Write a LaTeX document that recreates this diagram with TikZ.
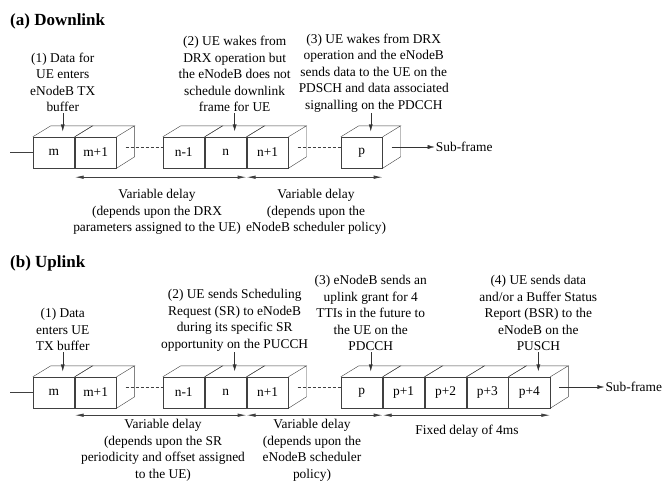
\documentclass[tikz,border=0pt]{standalone}
\usepackage{fontspec}
\setmainfont{Liberation Serif}
\usetikzlibrary{arrows.meta,positioning}

\begin{document}
\begin{tikzpicture}[x=1pt, y=-1pt,
	frame/.style={draw=black!75, minimum width=41.5pt, minimum height=31pt, inner sep=0pt, font=\fontsize{13.4}{16.5}\selectfont},
	face/.style={draw=black!75},
	note/.style={align=center, inner sep=1pt, font=\fontsize{13.4}{16.5}\selectfont},
	title/.style={anchor=west, inner sep=0pt, font=\fontsize{17}{20}\selectfont\bfseries},
	pointer/.style={-{Latex[length=7pt, width=4pt]}, black!80},
	delay/.style={{Latex[length=9pt, width=3.5pt]}-{Latex[length=9pt, width=3.5pt]}, black!75, thick},
	gap/.style={black!75, dash pattern=on 3pt off 2pt}]
	\useasboundingbox (0, 0) rectangle (662, 480);

	% (a) downlink
	\node[title] (dl-title) at (10, 21) {(a) Downlink};

	\node[frame] (dl-m) at (53.75, 152.5) {m};
	\node[frame, right=0pt of dl-m] (dl-m1) {m+1};
	\node[frame] (dl-n0) at (183.75, 152.5) {n-1};
	\node[frame, right=0pt of dl-n0] (dl-n) {n};
	\node[frame, right=0pt of dl-n] (dl-n1) {n+1};
	\node[frame] (dl-p) at (361.75, 152.5) {p};

	% (b) uplink
	\node[title] (ul-title) at (10, 263) {(b) Uplink};

	\node[frame] (ul-m) at (53.75, 392.5) {m};
	\node[frame, right=0pt of ul-m] (ul-m1) {m+1};
	\node[frame] (ul-n0) at (183.75, 392.5) {n-1};
	\node[frame, right=0pt of ul-n0] (ul-n) {n};
	\node[frame, right=0pt of ul-n] (ul-n1) {n+1};
	\node[frame] (ul-p) at (361.75, 392.5) {p};
	\node[frame, right=0pt of ul-p] (ul-p1) {p+1};
	\node[frame, right=0pt of ul-p1] (ul-p2) {p+2};
	\node[frame, right=0pt of ul-p2] (ul-p3) {p+3};
	\node[frame, right=0pt of ul-p3] (ul-p4) {p+4};

	\foreach \b in {dl-m, dl-m1, dl-n0, dl-n, dl-n1, dl-p, ul-m, ul-m1, ul-n0, ul-n, ul-n1, ul-p, ul-p1, ul-p2, ul-p3, ul-p4}
		\draw[face] (\b.north west) -- ++(18, -11) -- ([shift={(18, -11)}]\b.north east) -- (\b.north east);
	\foreach \b in {dl-m1, dl-n1, dl-p, ul-m1, ul-n1, ul-p4}
		\draw[face] (\b.north east) ++(18, -11) -- ++(0, 31) -- (\b.south east);

	% lines between the sub-frames
	\coordinate (dl-start) at (10, 152.5);
	\coordinate (dl-gap1) at ([shift={(9, -5.5)}]dl-m1.east);
	\coordinate (dl-gap2) at ([shift={(9, -5.5)}]dl-n1.east);
	\coordinate (dl-out) at ([shift={(9, -5.5)}]dl-p.east);
	\draw[face] (dl-start) -- (dl-m);
	\draw[gap] (dl-gap1) -- (dl-gap1 -| dl-n0.west);
	\draw[gap] (dl-gap2) -- (dl-gap2 -| dl-p.west);
	\node[note, right=43pt of dl-out] (dl-sub) {Sub-frame};
	\draw[pointer] (dl-out) -- (dl-sub);

	\coordinate (ul-start) at (10, 392.5);
	\coordinate (ul-gap1) at ([shift={(9, -5.5)}]ul-m1.east);
	\coordinate (ul-gap2) at ([shift={(9, -5.5)}]ul-n1.east);
	\coordinate (ul-out) at ([shift={(9, -5.5)}]ul-p4.east);
	\draw[face] (ul-start) -- (ul-m);
	\draw[gap] (ul-gap1) -- (ul-gap1 -| ul-n0.west);
	\draw[gap] (ul-gap2) -- (ul-gap2 -| ul-p.west);
	\node[note, right=45pt of ul-out] (ul-sub) {Sub-frame};
	\draw[pointer] (ul-out) -- (ul-sub);

	% events
	\coordinate (dl-mtop) at ([shift={(9, -5.5)}]dl-m.north);
	\coordinate (dl-ntop) at ([shift={(9, -5.5)}]dl-n.north);
	\coordinate (dl-ptop) at ([shift={(9, -5.5)}]dl-p.north);
	\node[note, above=18pt of dl-mtop] (dl-e1) {(1) Data for\\UE enters\\eNodeB TX\\buffer};
	\node[note, above=18pt of dl-ntop] (dl-e2) {(2) UE wakes from\\DRX operation but\\the eNodeB does not\\schedule downlink\\frame for UE};
	\node[note, above=18pt of dl-ptop, xshift=3pt] (dl-e3) {(3) UE wakes from DRX\\operation and the eNodeB\\sends data to the UE on the\\PDSCH and data associated\\signalling on the PDCCH};
	\draw[pointer] (dl-e1) -- (dl-mtop);
	\draw[pointer] (dl-e2) -- (dl-ntop);
	\draw[pointer] (dl-e3.south -| dl-ptop) -- (dl-ptop);

	\coordinate (ul-mtop) at ([shift={(9, -5.5)}]ul-m.north);
	\coordinate (ul-ntop) at ([shift={(9, -5.5)}]ul-n.north);
	\coordinate (ul-ptop) at ([shift={(9, -5.5)}]ul-p.north);
	\coordinate (ul-p4top) at ([shift={(9, -5.5)}]ul-p4.north);
	\node[note, above=19pt of ul-mtop] (ul-e1) {(1) Data\\enters UE\\TX buffer};
	\node[note, above=19pt of ul-ntop] (ul-e2) {(2) UE sends Scheduling\\Request (SR) to eNodeB\\during its specific SR\\opportunity on the PUCCH};
	\node[note, above=19pt of ul-ptop] (ul-e3) {(3) eNodeB sends an\\uplink grant for 4\\TTIs in the future to\\the UE on the\\PDCCH};
	\node[note, above=19pt of ul-p4top] (ul-e4) {(4) UE sends data\\and/or a Buffer Status\\Report (BSR) to the\\eNodeB on the\\PUSCH};
	\draw[pointer] (ul-e1) -- (ul-mtop);
	\draw[pointer] (ul-e2) -- (ul-ntop);
	\draw[pointer] (ul-e3) -- (ul-ptop);
	\draw[pointer] (ul-e4) -- (ul-p4top);

	% delays
	\coordinate (dl-d0) at ([yshift=-9pt]dl-m1.south west);
	\coordinate (dl-d1) at ([yshift=-9pt]dl-n1.south west);
	\coordinate (dl-d2) at ([yshift=-9pt]dl-p.south east);
	\draw[delay] (dl-d0) -- (dl-d1);
	\draw[delay] (dl-d1) -- (dl-d2);
	\node[note, anchor=north] (dl-v1) at (157, 188) {Variable delay\\(depends upon the DRX\\parameters assigned to the UE)};
	\node[note, anchor=north] (dl-v2) at (316, 188) {Variable delay\\(depends upon the\\eNodeB scheduler policy)};

	\coordinate (ul-d0) at ([yshift=-7pt]ul-m1.south west);
	\coordinate (ul-d1) at ([yshift=-7pt]ul-n1.south west);
	\coordinate (ul-d2) at ([yshift=-7pt]ul-p.south east);
	\coordinate (ul-d3) at ([yshift=-7pt]ul-p4.south east);
	\draw[delay] (ul-d0) -- (ul-d1);
	\draw[delay] (ul-d1) -- (ul-d2);
	\draw[delay] (ul-d2) -- (ul-d3);
	\node[note, anchor=north] (ul-v1) at (163, 418) {Variable delay\\(depends upon the SR\\periodicity and offset assigned\\to the UE)};
	\node[note, anchor=north] (ul-v2) at (312, 418) {Variable delay\\(depends upon the\\eNodeB scheduler\\policy)};
	\node[note, anchor=north] (ul-v3) at (467, 424) {Fixed delay of 4ms};
\end{tikzpicture}
\end{document}
